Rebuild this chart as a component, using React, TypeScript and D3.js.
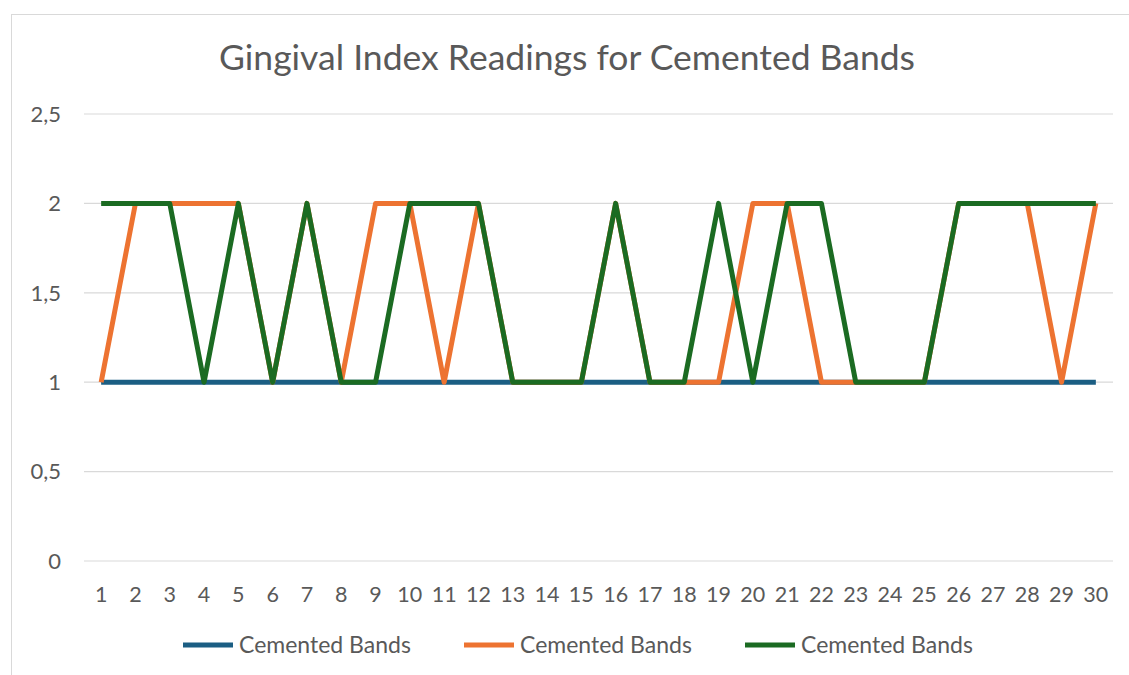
import React from "react";
import * as d3 from "d3";

const categories = Array.from({ length: 30 }, (_, i) => String(i + 1));
const seriesNames = ["Cemented Bands", "Cemented Bands", "Cemented Bands"];
const blueValues = [1,1,1,1,1,1,1,1,1,1,1,1,1,1,1,1,1,1,1,1,1,1,1,1,1,1,1,1,1,1];
const orangeValues = [1,2,2,2,2,1,2,1,2,2,1,2,1,1,1,2,1,1,1,2,2,1,1,1,1,2,2,2,1,2];
const greenValues = [2,2,2,1,2,1,2,1,1,2,2,2,1,1,1,2,1,1,2,1,2,2,1,1,1,2,2,2,2,2];
const yTicks = [0, 0.5, 1, 1.5, 2, 2.5];
const colors = ["#1b5e83", "#ed7331", "#1b6b22"];
const title = "Gingival Index Readings for Cemented Bands";

const W = 1129, H = 675;
const left = 84, right = 1113, top = 114, bottom = 561;

export default function App() {
  const x = d3.scalePoint<string>().domain(categories).range([left, right]).padding(0.5);
  const y = d3.scaleLinear().domain([0, 2.5]).range([bottom, top]);
  const line = d3.line<number>().x((_, i) => x(categories[i])!).y(d => y(d));
  const all = [blueValues, orangeValues, greenValues];
  const font = "Lato, 'Open Sans', sans-serif";
  const legendX = [183, 464, 745];
  return (
    <svg width={W} height={H} style={{ position: "absolute", left: 0, top: 0 }}>
      <rect x={0} y={0} width={W} height={H} fill="#fff" />
      <rect x={11.5} y={14.5} width={W + 20} height={H + 20} fill="#fff" stroke="#d9d9d9" strokeWidth={1} />
      <text x={567} y={70} textAnchor="middle" fontFamily={font} fontSize={35.5} fill="#595959">{title}</text>
      {yTicks.map(t => (
        <g key={t}>
          <line x1={left} x2={right} y1={y(t)} y2={y(t)} stroke="#d9d9d9" strokeWidth={1.2} />
          <text x={61} y={y(t)} dy="0.35em" textAnchor="end" fontFamily={font} fontSize={22} fill="#595959">{String(t).replace(".", ",")}</text>
        </g>
      ))}
      {categories.map(c => (
        <text key={c} x={x(c)} y={602} textAnchor="middle" fontFamily={font} fontSize={21.5} fill="#595959">{c}</text>
      ))}
      {all.map((vals, si) => (
        <path key={si} d={line(vals)!} fill="none" stroke={colors[si]} strokeWidth={5} strokeLinejoin="round" strokeLinecap="butt" />
      ))}
      {seriesNames.map((n, i) => (
        <g key={i}>
          <line x1={legendX[i]} x2={legendX[i] + 50} y1={645} y2={645} stroke={colors[i]} strokeWidth={5} />
          <text x={legendX[i] + 56} y={645} dy="0.35em" fontFamily={font} fontSize={23} fill="#595959">{n}</text>
        </g>
      ))}
    </svg>
  );
}
